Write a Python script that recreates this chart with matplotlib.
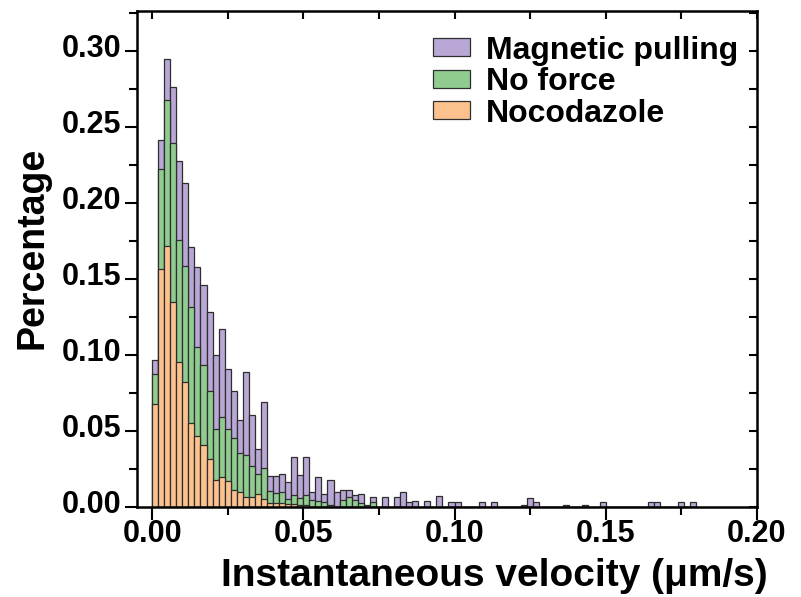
import numpy as np
import matplotlib
matplotlib.use("Agg")
from matplotlib import pyplot as plt
from matplotlib.ticker import MultipleLocator, FormatStrFormatter
import matplotlib.transforms as mtransforms

plt.rcParams['font.family'] = ['Liberation Sans', 'DejaVu Sans']
plt.rcParams['font.weight'] = 'bold'

# histogram bins: 0.002 wide, starting at 0
bin_width = 0.002
n_bins = 90

magnetic = [0.0965, 0.2414, 0.2946, 0.2760, 0.2274, 0.2132, 0.1709, 0.1574, 0.1458, 0.1283,
            0.1002, 0.1173, 0.0910, 0.0762, 0.0571, 0.0889, 0.0604, 0.0380, 0.0687, 0.0202,
            0.0205, 0.0220, 0.0166, 0.0326, 0.0208, 0.0328, 0.0100, 0.0200, 0.0085, 0.0180,
            0.0101, 0.0112, 0.0112, 0.0079, 0.0083, 0.0015, 0.0063, 0.0000, 0.0063, 0.0000,
            0.0063, 0.0101, 0.0031, 0.0042, 0.0000, 0.0042, 0.0000, 0.0072, 0.0000, 0.0030,
            0.0030, 0.0000, 0.0000, 0.0000, 0.0030, 0.0000, 0.0030, 0.0000, 0.0000, 0.0000,
            0.0000, 0.0010, 0.0061, 0.0030, 0.0000, 0.0000, 0.0000, 0.0000, 0.0010, 0.0000,
            0.0000, 0.0010, 0.0000, 0.0000, 0.0030, 0.0000, 0.0000, 0.0000, 0.0000, 0.0000,
            0.0000, 0.0000, 0.0030, 0.0030, 0.0000, 0.0000, 0.0000, 0.0030, 0.0000, 0.0030]

no_force = [0.0871, 0.2224, 0.2672, 0.2394, 0.1758, 0.1582, 0.1315, 0.1052, 0.0932, 0.0762,
            0.0515, 0.0593, 0.0515, 0.0451, 0.0352, 0.0341, 0.0270, 0.0218, 0.0254, 0.0107,
            0.0094, 0.0096, 0.0050, 0.0079, 0.0057, 0.0079, 0.0046, 0.0040, 0.0030, 0.0010,
            0.0000, 0.0046, 0.0063, 0.0046, 0.0024, 0.0000, 0.0035] + [0.0] * 53

nocodazole = [0.0674, 0.1567, 0.1716, 0.1344, 0.0950, 0.0823, 0.0554, 0.0466, 0.0407, 0.0313,
              0.0174, 0.0199, 0.0172, 0.0112, 0.0101, 0.0068, 0.0063, 0.0085, 0.0050, 0.0028,
              0.0028, 0.0028, 0.0020, 0.0020, 0.0013, 0.0010] + [0.0] * 64

labels = ["Magnetic pulling", "No force", "Nocodazole"]
colors = ["#b9a8d6", "#90cb90", "#fbc28e"]

edges = np.arange(n_bins) * bin_width

fig = plt.figure(figsize=(8.01, 5.97), dpi=100)
ax = fig.add_axes([0.171, 0.1508, 0.774, 0.8308])

# drawn back to front: purple, green, orange
for vals, lab, col in zip([magnetic, no_force, nocodazole], labels, colors):
    ax.bar(edges, vals, width=bin_width, align="edge", color=col,
           edgecolor="#2e2e2e", linewidth=0.9, label=lab)

ax.set_xlim(-0.005, 0.20)
ax.set_ylim(0, 0.326)

ax.xaxis.set_major_locator(MultipleLocator(0.05))
ax.xaxis.set_minor_locator(MultipleLocator(0.025))
ax.yaxis.set_major_locator(MultipleLocator(0.05))
ax.yaxis.set_minor_locator(MultipleLocator(0.025))
ax.xaxis.set_major_formatter(FormatStrFormatter("%.2f"))
ax.yaxis.set_major_formatter(FormatStrFormatter("%.2f"))

ax.tick_params(which="major", direction="out", length=9, width=1.5, labelsize=22)
ax.tick_params(axis="x", which="major", pad=0)
ax.tick_params(axis="y", which="major", pad=2)
ax.tick_params(which="minor", direction="out", length=6, width=1.5)

# top and right ticks point inward, no labels
top = ax.secondary_xaxis("top")
top.xaxis.set_major_locator(MultipleLocator(0.025))
top.tick_params(direction="in", length=6, width=1.5, labeltop=False)
right = ax.secondary_yaxis("right")
right.yaxis.set_major_locator(MultipleLocator(0.025))
right.tick_params(direction="in", length=6, width=1.5, labelright=False)
for sp in list(top.spines.values()) + list(right.spines.values()):
    sp.set_visible(False)

for sp in ax.spines.values():
    sp.set_linewidth(1.8)

# y tick labels sit a bit above their ticks in the reference
offset = mtransforms.ScaledTranslation(0, 5 / 100, fig.dpi_scale_trans)
for lbl in ax.get_yticklabels():
    lbl.set_transform(lbl.get_transform() + offset)

ax.set_xlabel("Instantaneous velocity (μm/s)", fontsize=28, fontweight="bold")
ax.set_ylabel("Percentage", fontsize=27, fontweight="bold")
ax.xaxis.set_label_coords(0.576, -0.103)
ax.yaxis.set_label_coords(-0.14, 0.522)

ax.legend(loc="upper right", bbox_to_anchor=(0.975, 0.957), frameon=False,
          fontsize=23, handlelength=1.15, handleheight=0.5, handletextpad=0.5,
          labelspacing=0.05, borderaxespad=0, borderpad=0.1)

fig.savefig("out.png", dpi=100)
